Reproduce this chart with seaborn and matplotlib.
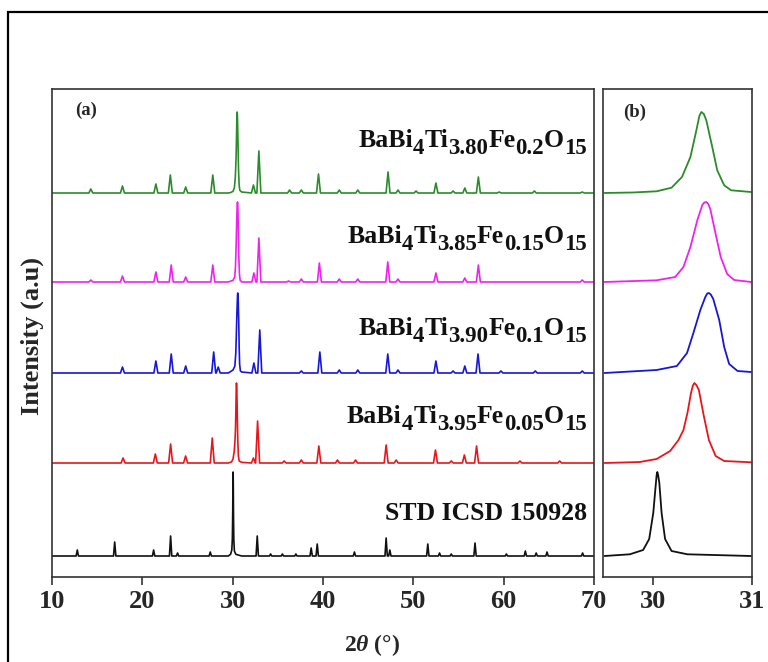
import numpy as np
import pandas as pd
import matplotlib
matplotlib.use("Agg")
import matplotlib.pyplot as plt
from matplotlib.patches import Rectangle
from matplotlib.transforms import offset_copy
import seaborn as sns

sns.set_style("ticks")
plt.rcParams["font.family"] = ["Liberation Serif", "DejaVu Serif"]
plt.rcParams["font.weight"] = "bold"
plt.rcParams["mathtext.fontset"] = "custom"
plt.rcParams["mathtext.rm"] = "Liberation Serif:bold"
plt.rcParams["mathtext.it"] = "Liberation Serif:italic:bold"
plt.rcParams["mathtext.bf"] = "Liberation Serif:bold"

# ---------------- data ----------------
# label pieces: (text, is_subscript)
labels = [
    [("STD ICSD 150928", 0)],
    [("BaBi", 0), ("4", 1), ("Ti", 0), ("3.95", 1), ("Fe", 0), ("0.05", 1), ("O", 0), ("15", 1)],
    [("BaBi", 0), ("4", 1), ("Ti", 0), ("3.90", 1), ("Fe", 0), ("0.1", 1), ("O", 0), ("15", 1)],
    [("BaBi", 0), ("4", 1), ("Ti", 0), ("3.85", 1), ("Fe", 0), ("0.15", 1), ("O", 0), ("15", 1)],
    [("BaBi", 0), ("4", 1), ("Ti", 0), ("3.80", 1), ("Fe", 0), ("0.2", 1), ("O", 0), ("15", 1)],
]
offsets = [21, 114, 204, 295, 384]

# minor reflections (position 2theta, height) for the wide scan
std_pos = [12.8, 16.94, 21.25, 23.13, 23.9, 27.52, 32.72, 34.2, 35.5, 37.0, 38.69, 39.36,
           43.48, 46.99, 47.4, 51.6, 52.9, 54.2, 56.83, 60.3, 62.4, 63.6, 64.8, 68.74]
std_h = [6, 14, 6, 20, 3, 4, 20, 2, 2, 2, 8, 12, 4, 18, 6, 12, 3, 2, 13, 2, 5, 3, 4, 3]

red_pos = [17.87, 21.44, 23.13, 24.79, 27.74, 32.3, 32.76, 35.7, 37.6, 39.54, 41.6, 43.6,
           46.99, 48.1, 52.45, 54.2, 55.65, 57.0, 61.8, 66.2]
red_h = [5, 9, 19, 7, 25, 5, 42, 2, 3, 17, 3, 3, 18, 3, 13, 2, 8, 17, 2, 2]

blue_pos = [17.8, 21.5, 23.2, 24.8, 27.9, 28.4, 32.35, 33.0, 37.6, 39.65, 41.8, 43.85,
            47.17, 48.3, 52.5, 54.4, 55.7, 57.16, 59.7, 63.5, 68.7]
blue_h = [6, 12, 19, 7, 21, 6, 10, 43, 2, 21, 3, 3, 19, 3, 12, 2, 7, 19, 2, 2, 2]

magenta_pos = [14.3, 17.8, 21.5, 23.2, 24.8, 27.8, 32.35, 32.9, 36.2, 37.6, 39.6, 41.8,
               43.85, 47.17, 48.3, 52.5, 55.7, 57.2, 68.7]
magenta_h = [2, 6, 10, 17, 5, 17, 9, 44, 1, 3, 19, 3, 3, 20, 3, 9, 4, 17, 2]

green_pos = [14.3, 17.8, 21.5, 23.1, 24.8, 27.8, 32.3, 32.9, 36.3, 37.6, 39.5, 41.8, 43.85,
             47.2, 48.3, 50.3, 52.5, 54.4, 55.7, 57.2, 59.5, 63.4, 68.7]
green_h = [4, 7, 9, 18, 6, 18, 8, 42, 3, 3, 19, 3, 3, 21, 3, 2, 10, 2, 5, 16, 1, 2, 1]

# main reflection profile, 29.5-31 deg (panel b, also used in panel a)
std_zx = [29.515, 29.77, 29.904, 29.965, 30.006, 30.03, 30.04, 30.047, 30.055, 30.067, 30.09,
          30.125, 30.19, 30.35, 30.99]
std_zy = [0, 1.7, 6, 17, 43, 70, 81, 84, 81, 73, 43, 17, 5, 1.7, 0]
red_zx = [29.515, 29.87, 30.04, 30.176, 30.26, 30.31, 30.35, 30.386, 30.405, 30.42, 30.44,
          30.465, 30.515, 30.566, 30.634, 30.72, 30.99]
red_zy = [0, 1, 4, 12, 23, 33, 50, 70, 77.5, 80, 78, 73, 47, 23, 7, 2, 0.7]
blue_zx = [29.515, 30.04, 30.244, 30.346, 30.41, 30.48, 30.53, 30.55, 30.566, 30.585, 30.61,
           30.67, 30.72, 30.77, 30.855, 30.99]
blue_zy = [0, 3, 7, 20, 40, 63, 76, 79.5, 80, 78.5, 74, 53, 26, 9, 2, 1]
magenta_zx = [29.515, 30.04, 30.227, 30.31, 30.38, 30.45, 30.50, 30.52, 30.54, 30.56, 30.58,
              30.634, 30.685, 30.75, 30.82, 30.99]
magenta_zy = [0, 1.7, 5, 15, 35, 62, 77, 79.5, 80, 78, 73, 48, 25, 8, 2, 0]
green_zx = [29.515, 29.8, 30.04, 30.19, 30.295, 30.38, 30.44, 30.47, 30.49, 30.515, 30.54,
            30.6, 30.65, 30.72, 30.79, 30.99]
green_zy = [0, 0.5, 1.7, 5.3, 16, 36, 62.7, 77, 81, 79, 72.7, 46, 22.7, 7.7, 2.7, 1]

colors = ["#111111", "#e8161b", "#1717d6", "#ee22ee", "#2a8c2a"]
peaks = [(std_pos, std_h), (red_pos, red_h), (blue_pos, blue_h),
         (magenta_pos, magenta_h), (green_pos, green_h)]
zooms = [(std_zx, std_zy), (red_zx, red_zy), (blue_zx, blue_zy),
         (magenta_zx, magenta_zy), (green_zx, green_zy)]
half_w = [0.13, 0.22, 0.22, 0.22, 0.22]
label_y = [57, 154, 242, 334, 430]


def wide_pattern(pos, h, zx, zy, w):
    pts = [(10.0, 0.0), (70.0, 0.0)]
    for p, hh in zip(pos, h):
        pts += [(p - w, 0.0), (p, hh), (p + w, 0.0)]
    pts += list(zip(zx, zy))
    pts.sort(key=lambda t: t[0])
    return np.array([t[0] for t in pts]), np.array([t[1] for t in pts])


# ---------------- figure ----------------
W, H = 768, 662
fig = plt.figure(figsize=(W / 100, H / 100), dpi=100)
axA = fig.add_axes([52 / W, (H - 577) / H, (594 - 52) / W, 488 / H])
axB = fig.add_axes([603 / W, (H - 577) / H, (752 - 603) / W, 488 / H])
renderer = fig.canvas.get_renderer()


def rich_label(ax, xr, y, pieces, main=18.5, sub=16.5, drop=7):
    items = []
    for s, is_sub in pieces:
        t = ax.text(xr, y, s, fontsize=sub if is_sub else main, fontweight="bold",
                    ha="left", va="baseline", color="#111111")
        w = t.get_window_extent(renderer).width
        items.append((t, w, is_sub))
    cur = -sum(w for _, w, _ in items)
    for t, w, is_sub in items:
        t.set_transform(offset_copy(ax.transData, fig=fig, x=cur, y=-drop if is_sub else 0,
                                    units="dots"))
        cur += w


for i in range(5):
    x, y = wide_pattern(peaks[i][0], peaks[i][1], zooms[i][0], zooms[i][1], half_w[i])
    sns.lineplot(x=x, y=y + offsets[i], ax=axA, color=colors[i], lw=1.2,
                 sort=False, estimator=None)
    sns.lineplot(x=np.array(zooms[i][0]), y=np.array(zooms[i][1]) + offsets[i], ax=axB,
                 color=colors[i], lw=1.3, sort=False, estimator=None)

axA.set_xlim(10, 70)
axB.set_xlim(29.5, 31)
for ax in (axA, axB):
    ax.set_ylim(0, 488)
    ax.set_yticks([])
    ax.set_xlabel("")
    ax.set_ylabel("")
    for s in ax.spines.values():
        s.set_visible(True)
        s.set_color("#333333")
        s.set_linewidth(1.2)
    ax.tick_params(axis="x", direction="out", length=6, width=1.2, color="#333333",
                   labelsize=19, pad=3, top=False)

axA.set_xticks([10, 20, 30, 40, 50, 60, 70])
axB.set_xticks([30, 31])
for ax in (axA, axB):
    for lab in ax.get_xticklabels():
        lab.set_fontweight("bold")

for i in range(5):
    rich_label(axA, 69.2, label_y[i], labels[i])

axA.text(0.062, 0.957, "(a)", transform=axA.transAxes, ha="center", va="center",
         fontsize=13.5, fontweight="bold")
axB.text(0.21, 0.953, "(b)", transform=axB.transAxes, ha="center", va="center",
         fontsize=13.5, fontweight="bold")

fig.text(372 / W, 1 - 645 / H, r"2$\mathit{\theta}$ (°)", ha="center", va="center",
         fontsize=17, fontweight="bold")
fig.text(32 / W, 1 - 336 / H, "Intensity (a.u)", rotation=90, ha="center", va="center",
         fontsize=19, fontweight="bold")

fig.patches.append(Rectangle((8 / W, -0.05), 1.1, 1 - 12 / H + 0.05, transform=fig.transFigure,
                             fill=False, lw=1.6, edgecolor="black", clip_on=False))

fig.savefig("out.png", dpi=100)
